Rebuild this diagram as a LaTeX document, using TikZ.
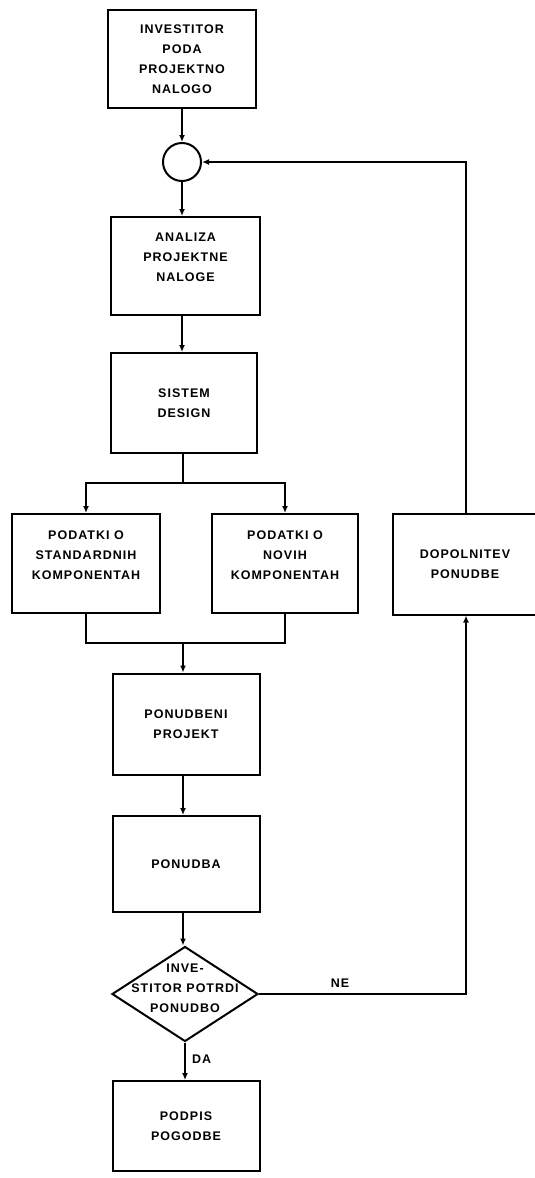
\documentclass[tikz,border=0pt]{standalone}
\usepackage{fontspec}
\setmainfont{Liberation Sans}[LetterSpace=8]
\usetikzlibrary{shapes.geometric,arrows.meta}
\begin{document}
\begin{tikzpicture}[x=1pt,y=-1pt,
  box/.style={draw,line width=2pt,align=center,inner sep=0pt,
    font=\fontsize{12.5}{20}\selectfont\bfseries},
  arr/.style={line width=2pt,-{Latex[length=7pt,width=6pt]}},
  ln/.style={line width=2pt},
  lbl/.style={font=\fontsize{12.5}{20}\selectfont\bfseries,inner sep=0pt,align=center}]
\useasboundingbox (0,0) rectangle (535,1178);
\node[box,minimum width=148pt,minimum height=98pt] (b1) at (182,59) {INVESTITOR\\PODA\\PROJEKTNO\\NALOGO};
\node[draw,circle,line width=2pt,minimum size=38pt,inner sep=0pt] (c) at (182,162) {};
\node[box,minimum width=149pt,minimum height=98pt] (b2) at (185.5,266) {ANALIZA\\PROJEKTNE\\NALOGE\\[-2pt]};
\node[box,minimum width=146pt,minimum height=100pt] (b3) at (184,403) {SISTEM\\DESIGN};
\node[box,minimum width=148pt,minimum height=99pt] (b4l) at (86,563.5) {PODATKI O\\STANDARDNIH\\KOMPONENTAH\\[-3pt]};
\node[box,minimum width=146pt,minimum height=99pt] (b4r) at (285,563.5) {PODATKI O\\NOVIH\\KOMPONENTAH\\[-3pt]};
\node[box,minimum width=144pt,minimum height=101pt] (b5) at (465,564) {DOPOLNITEV\\PONUDBE};
\node[box,minimum width=147pt,minimum height=101pt] (b6) at (186,724) {PONUDBENI\\PROJEKT};
\node[box,minimum width=147pt,minimum height=96pt] (b7) at (186,864) {PONUDBA};
\node[draw,diamond,line width=2pt,minimum width=146pt,minimum height=95pt,inner sep=0pt] (d) at (185,994) {};
\node[lbl] (dt) at (185,988) {INVE-\\STITOR POTRDI\\PONUDBO};
\node[box,minimum width=147pt,minimum height=90pt] (b8) at (186,1126) {PODPIS\\POGODBE};
\coordinate (j1) at (183,483);
\coordinate (j2) at (183,643);
\coordinate (kx) at (466,0);
\draw[arr] (b1.south) -- (c.north);
\draw[arr] (c.south) -- (c.south |- b2.north);
\draw[arr] (b2.south -| c.south) -- (c.south |- b3.north);
\draw[ln] (b3.south -| j1) -- (j1);
\draw[arr] (j1) -| (b4l.north);
\draw[arr] (j1) -| (b4r.north);
\draw[ln] (b4l.south) |- (j2);
\draw[ln] (b4r.south) |- (j2);
\draw[arr] (j2) -- (j2 |- b6.north);
\draw[arr] (b6.south -| j2) -- (j2 |- b7.north);
\draw[arr] (b7.south -| j2) -- (j2 |- d.north);
\draw[arr] (d.south) -- (d.south |- b8.north) node[lbl,pos=0.45,right=6pt] (da) {DA};
\draw[arr] (d.east) -- (d.east -| kx) -- (kx |- b5.south);
\node[lbl,anchor=south] (ne) at (340,988) {NE};
\draw[arr] (kx |- b5.north) |- (c.east);
\end{tikzpicture}
\end{document}
